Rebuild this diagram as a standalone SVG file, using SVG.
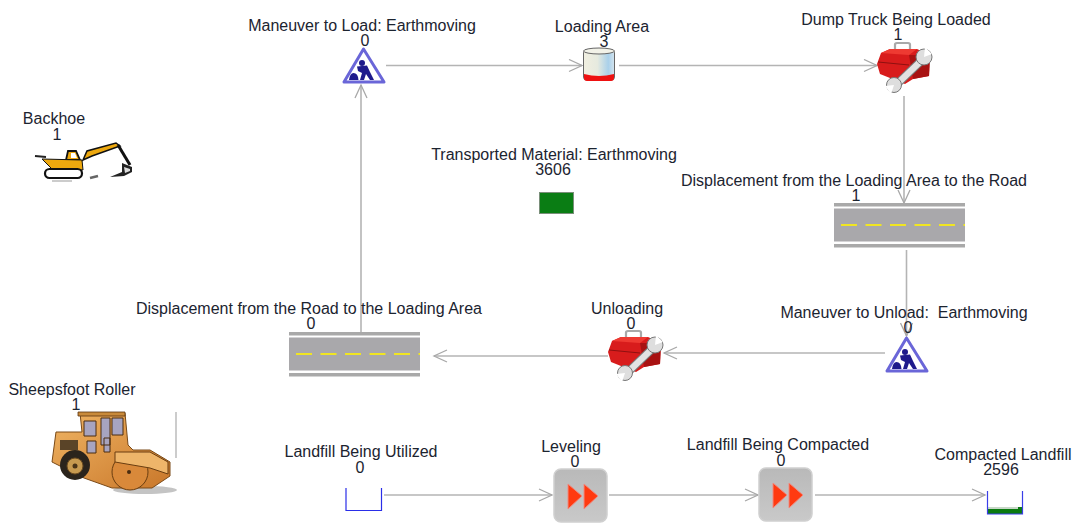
<svg xmlns="http://www.w3.org/2000/svg" width="1074" height="523" viewBox="0 0 1074 523">
<style>
text{font-family:"Liberation Sans",Arial,sans-serif;font-size:16px;fill:#1c2430;text-anchor:middle}
.c{fill:none;stroke:#b4b4b4;stroke-width:1.6}
.h{fill:none;stroke:#a8a8a8;stroke-width:1.3}
</style>
<defs>
<linearGradient id="cyl" x1="0" x2="1" y1="0" y2="0"><stop offset="0" stop-color="#f1efe0"/><stop offset=".45" stop-color="#e6eadf"/><stop offset=".8" stop-color="#a9d0ea"/><stop offset="1" stop-color="#d4e4ee"/></linearGradient>
<linearGradient id="btn" x1="0" x2="0" y1="0" y2="1"><stop offset="0" stop-color="#b9b9b9"/><stop offset="1" stop-color="#c9c9c9"/></linearGradient>
<linearGradient id="org" x1="0" x2="1" y1="0" y2="1"><stop offset="0" stop-color="#f0b564"/><stop offset="1" stop-color="#c9772a"/></linearGradient>
<marker id="a" markerWidth="16" markerHeight="14" refX="14" refY="7" orient="auto" markerUnits="userSpaceOnUse"><path class="h" d="M1 1L14 7L1 13"/></marker>
<g id="warn">
<path d="M20.500 2L41 35H1Z" fill="#fff" stroke="#6a66d8" stroke-width="3" stroke-linejoin="round"/>
<circle cx="19" cy="16" r="3" fill="#1e1a8c"/>
<path d="M14 19.500L24 18.500L27 25L31 33H27L23 27L21 33H17L19 26L15 24Z" fill="#1e1a8c"/>
<path d="M6 33Q7 26 10.500 26Q15 26 15.500 33Z" fill="#1e1a8c"/>
</g>
<g id="tool">
<path d="M18 7V2.500Q18 1 20 1H31Q33 1 33 2.500V7" fill="none" stroke="#a9a9a9" stroke-width="2.200"/>
<path d="M4 11L13 7H40L53 13L52 34L36 37L28 42L3 32L0 22Z" fill="#d81c1c"/>
<path d="M4 11L13 7H40L32 13Z" fill="#ee3a32"/>
<path d="M32 13L53 13L52 34L36 37Z" fill="#a81212"/>
<path d="M1 20L32 23" stroke="#8f1010" stroke-width="1"/>
<path d="M44 19L20 42" stroke="#777" stroke-width="8.500"/>
<path d="M44 19L20 42" stroke="#e2e2e2" stroke-width="6.500"/>
<circle cx="47" cy="15" r="8" fill="#dedede" stroke="#777"/><path d="M47 15L55 12L48 5Z" fill="#fff"/>
<circle cx="17" cy="43" r="7.500" fill="#dedede" stroke="#777"/><path d="M17 43L8 44L14 52Z" fill="#fff"/>
</g>
<g id="road">
<rect width="131" height="44.500" fill="#fff"/>
<rect y="0" width="131" height="3.500" fill="#a9a9a9"/>
<rect y="5.500" width="131" height="33" fill="#a9a8ab"/>
<rect y="41" width="131" height="3.500" fill="#a9a9a9"/>
<path d="M7 22H131" stroke="#f0e522" stroke-width="2" stroke-dasharray="16 8.500"/>
</g>
<g id="ff">
<rect x="1" y="1" width="53" height="53" rx="7" fill="url(#btn)" stroke="#d0d0d0" stroke-width="1.500"/>
<path d="M15 16L29 28L15 41Z" fill="#ff3a10" stroke="#f08a80"/>
<path d="M31 16L45 28L31 41Z" fill="#ff3a10" stroke="#f08a80"/>
</g>
</defs>
<g id="connectors">
<path class="c" marker-end="url(#a)" d="M386 65.500H582"/>
<path class="c" marker-end="url(#a)" d="M619 65.500H877"/>
<path class="c" marker-end="url(#a)" d="M904 96V203"/>
<path class="c" marker-end="url(#a)" d="M906.500 250V336"/>
<path class="c" marker-end="url(#a)" d="M885 353H664"/>
<path class="c" marker-end="url(#a)" d="M608 356H434"/>
<path class="c" marker-end="url(#a)" d="M361 332V85"/>
<path class="c" marker-end="url(#a)" d="M384 495H552"/>
<path class="c" marker-end="url(#a)" d="M609 495H758"/>
<path class="c" marker-end="url(#a)" d="M815 495H985"/>
</g>
<g id="backhoe">
<text x="54" y="124">Backhoe</text><text x="57" y="140">1</text>
<path d="M35 156L46 157" stroke="#222" stroke-width="2"/>
<path d="M66 160L68 151H76L80 160Z" fill="#eda80e" stroke="#111" stroke-width="1.800"/>
<path d="M71 153H75L77 158H71Z" fill="#fff"/>
<path d="M42 159L82 160L83 170L52 169Z" fill="#eda80e" stroke="#111"/>
<path d="M83 160L87 151L116 143L120 146L92 156Z" fill="#eda80e" stroke="#111" stroke-width="1.500"/>
<path d="M118 145L130 165" stroke="#111" stroke-width="3"/>
<path d="M122 163L132 167V172L124 176L110 177L122 172Z" fill="#222"/>
<path d="M124 167L130 169V171L125 173Z" fill="#ddd"/>
<rect x="45" y="169" width="37" height="9" rx="4.500" fill="#fff" stroke="#111" stroke-width="2.200"/>
<path d="M52 181H72" stroke="#999" stroke-width="1"/>
<path d="M90 178L98 176" stroke="#666" stroke-width="2.500"/>
</g>
<g id="sheepsfoot-roller">
<text x="72" y="395">Sheepsfoot Roller</text><text x="76" y="410">1</text>
<path d="M176 412V458" stroke="#bbb" stroke-width="1.500"/>
<ellipse cx="145" cy="490" rx="32" ry="4" fill="#c4c4c4"/>
<path d="M56 432H82L80 413H125L128 445L133 450H150L170 462V476L152 488H112L84 478L52 462Z" fill="url(#org)" stroke="#7a4a18"/>
<path d="M78 412H125V416H78Z" fill="#c98a3a" stroke="#5a3410" stroke-width=".8"/>
<path d="M84 421H96V436H84ZM101 418H110V445H101ZM112 418H123V435H112ZM87 441H96V453H87ZM104 438H110V452H104Z" fill="#a7a4c0" stroke="#4a2c10"/>
<path d="M60 440H78V450H60Z" fill="#5a4428"/>
<circle cx="75" cy="465" r="15" fill="#2b241c"/><circle cx="75" cy="466" r="8" fill="#c79a50" stroke="#6a4a20"/><circle cx="75" cy="466" r="2.500" fill="#4a3418"/>
<circle cx="130" cy="472" r="18" fill="#d9893a" stroke="#6a3d10"/>
<path d="M115 452H150L168 462V474L150 468L115 462Z" fill="#eeb56a" stroke="#6a3d10"/>
<circle cx="129" cy="472" r="2" fill="#4a2c10"/>
</g>
<g id="maneuver-to-load">
<text x="362" y="31">Maneuver to Load: Earthmoving</text><text x="365" y="46">0</text>
<use href="#warn" x="343" y="47"/>
</g>
<g id="loading-area">
<text x="602" y="32">Loading Area</text><text x="604" y="47">3</text>
<rect x="583.500" y="50" width="31" height="30" rx="3" fill="url(#cyl)" stroke="#666" stroke-width="1"/>
<ellipse cx="599" cy="51" rx="15.500" ry="3" fill="#f2f2e8" stroke="#666" stroke-width="1"/>
<path d="M584 74Q599 78 614 74V78Q614 81 611 81H587Q584 81 584 78Z" fill="#ee1111"/>
</g>
<g id="dump-truck-being-loaded">
<text x="896" y="25">Dump Truck Being Loaded</text><text x="898" y="40">1</text>
<use href="#tool" x="877" y="42"/>
</g>
<g id="transported-material">
<text x="554" y="160">Transported Material: Earthmoving</text><text x="553" y="175">3606</text>
<rect x="539.500" y="192.500" width="34" height="21" fill="#0a7d14" stroke="#7a8f7a"/>
</g>
<g id="displacement-loading-road">
<text x="854" y="186">Displacement from the Loading Area to the Road</text><text x="856" y="201">1</text>
<use href="#road" x="834" y="203"/>
</g>
<g id="maneuver-to-unload">
<text x="904" y="318" xml:space="preserve">Maneuver to Unload:  Earthmoving</text><text x="908" y="333">0</text>
<use href="#warn" x="886" y="336"/>
</g>
<g id="unloading">
<text x="627" y="314">Unloading</text><text x="631" y="329">0</text>
<use href="#tool" x="608" y="330"/>
</g>
<g id="displacement-road-loading">
<text x="309" y="314">Displacement from the Road to the Loading Area</text><text x="311" y="329">0</text>
<use href="#road" x="289" y="332"/>
</g>
<g id="landfill-being-utilized">
<text x="361" y="457">Landfill Being Utilized</text><text x="360" y="473">0</text>
<path d="M346 488V510.500H381.500V488" fill="none" stroke="#2a2ee8" stroke-width="1.200"/>
</g>
<g id="leveling">
<text x="571" y="452">Leveling</text><text x="575" y="467">0</text>
<use href="#ff" x="553" y="468"/>
</g>
<g id="landfill-being-compacted">
<text x="778" y="450">Landfill Being Compacted</text><text x="781" y="466">0</text>
<use href="#ff" x="758" y="467"/>
</g>
<g id="compacted-landfill">
<text x="1003" y="460">Compacted Landfill</text><text x="1001" y="475">2596</text>
<rect x="988" y="507" width="34" height="7" fill="#0b7a10"/><rect x="988" y="507" width="30" height="2" fill="#c8d8c8"/>
<path d="M987.500 491V514H1022.500V491" fill="none" stroke="#3a3ee8" stroke-width="1.200"/>
</g>
</svg>
